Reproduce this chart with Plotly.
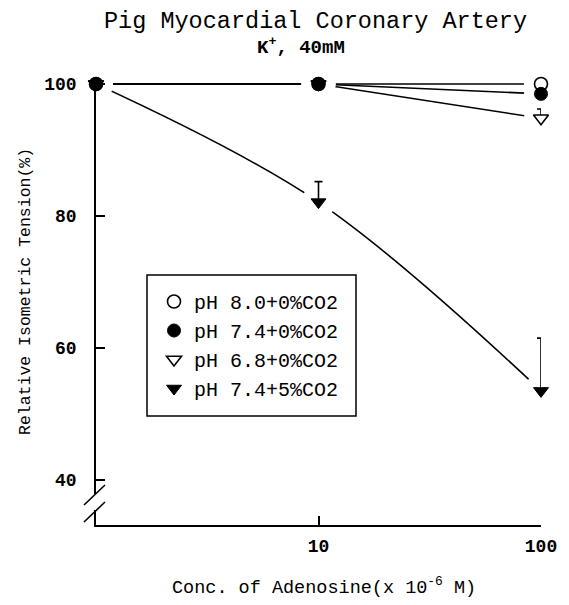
import plotly.graph_objects as go

# ---- data ----
conc = [1, 10, 100]
ph80_0co2 = [100, 100, 100]
ph74_0co2 = [100, 100, 98.5]
ph68_0co2 = [100, 100, 94.8]
ph68_0co2_err = [0, 0, 1.4]
ph74_5co2 = [100, 82.1, 53.5]
ph74_5co2_err = [0, 3.1, 8.0]

names = ["pH 8.0+0%CO2", "pH 7.4+0%CO2", "pH 6.8+0%CO2", "pH 7.4+5%CO2"]
x_ticks = [10, 100]
x_ticklabels = ["10", "100"]
y_ticks = [40, 60, 80, 100]

FONT = "Liberation Mono, Courier New, monospace"
BLACK = "black"

fig = go.Figure()

# connecting lines
for ys, shape in [(ph80_0co2, "linear"), (ph74_0co2, "linear"),
                  (ph68_0co2, "linear"), (ph74_5co2, "spline")]:
    fig.add_trace(go.Scatter(x=conc, y=ys, mode="lines", showlegend=False,
                             hoverinfo="skip",
                             line=dict(color=BLACK, width=1.6, shape=shape)))

# white masks to leave gaps around markers
mx, my = [], []
for ys in [ph80_0co2, ph74_0co2, ph68_0co2, ph74_5co2]:
    mx += conc
    my += ys
fig.add_trace(go.Scatter(x=mx, y=my, mode="markers", showlegend=False,
                         hoverinfo="skip", cliponaxis=False,
                         marker=dict(symbol="circle", size=34, color="white",
                                     line=dict(width=0))))

def err(arr):
    return dict(type="data", symmetric=False, array=arr,
                arrayminus=[0] * len(arr), color=BLACK, thickness=1.6, width=4)

# markers (drawing order: open first, filled on top)
fig.add_trace(go.Scatter(x=conc, y=ph80_0co2, mode="markers", name=names[0],
                         legendrank=1, cliponaxis=False,
                         marker=dict(symbol="circle", size=13, color="white",
                                     line=dict(color=BLACK, width=1.6))))
fig.add_trace(go.Scatter(x=conc, y=ph68_0co2, mode="markers", name=names[2],
                         legendrank=3, cliponaxis=False, error_y=err(ph68_0co2_err),
                         marker=dict(symbol="triangle-down", size=13, color="white",
                                     line=dict(color=BLACK, width=1.6))))
fig.add_trace(go.Scatter(x=conc, y=ph74_0co2, mode="markers", name=names[1],
                         legendrank=2, cliponaxis=False,
                         marker=dict(symbol="circle", size=13, color=BLACK,
                                     line=dict(color=BLACK, width=1))))
fig.add_trace(go.Scatter(x=conc, y=ph74_5co2, mode="markers", name=names[3],
                         legendrank=4, cliponaxis=False, error_y=err(ph74_5co2_err),
                         marker=dict(symbol="triangle-down", size=13, color=BLACK,
                                     line=dict(color=BLACK, width=1))))

# plot area in page pixels: x 96..541, y 81..525 (page has 8px body margin)
PX0, PX1, PY0, PY1 = 96, 541, 81, 525
PW, PH = PX1 - PX0, PY1 - PY0

def px(x):
    return (x - PX0) / PW

def py(y):
    return (PY1 - y) / PH

shapes = [
    # legend box
    dict(type="rect", xref="paper", yref="paper",
         x0=px(147), x1=px(356), y0=py(416), y1=py(275),
         line=dict(color=BLACK, width=1.5), fillcolor="white", layer="below"),
    # axis break: gap in y axis
    dict(type="rect", xref="paper", yref="paper", xsizemode="pixel",
         ysizemode="pixel", xanchor=0, yanchor=0, x0=-4, x1=4, y0=15, y1=31,
         line=dict(width=0), fillcolor="white", layer="above"),
    # slashes
    dict(type="line", xref="paper", yref="paper", xsizemode="pixel",
         ysizemode="pixel", xanchor=0, yanchor=0, x0=-12, x1=9, y0=20, y1=40,
         line=dict(color=BLACK, width=1.6), layer="above"),
    dict(type="line", xref="paper", yref="paper", xsizemode="pixel",
         ysizemode="pixel", xanchor=0, yanchor=0, x0=-12, x1=9, y0=3, y1=23,
         line=dict(color=BLACK, width=1.6), layer="above"),
]

annotations = [
    dict(text="Pig Myocardial Coronary Artery", xref="paper", yref="paper",
         x=px(315), y=py(21), xanchor="center", yanchor="middle",
         showarrow=False, font=dict(family=FONT, size=23.5, color=BLACK)),
    dict(text="K<sup>+</sup>, 40mM", xref="paper", yref="paper",
         x=px(301), y=py(47), xanchor="center", yanchor="middle",
         showarrow=False,
         font=dict(family=FONT, size=19, color=BLACK, weight="bold")),
    dict(text="Relative Isometric Tension(%)", xref="paper", yref="paper",
         x=px(25), y=py(292), xanchor="center", yanchor="middle",
         textangle=-90, showarrow=False,
         font=dict(family=FONT, size=16.5, color=BLACK)),
    dict(text="Conc. of Adenosine(x 10<sup>-6</sup> M)", xref="paper", yref="paper",
         x=px(324), y=py(586), xanchor="center", yanchor="middle",
         showarrow=False, font=dict(family=FONT, size=18.5, color=BLACK)),
]

fig.update_layout(
    width=561, height=597,
    margin=dict(l=88, r=28, t=73, b=80),
    paper_bgcolor="white", plot_bgcolor="white",
    font=dict(family=FONT, color=BLACK),
    showlegend=True,
    legend=dict(x=px(154), y=py(282), xanchor="left",
                yanchor="top", bgcolor="rgba(0,0,0,0)", borderwidth=0,
                font=dict(family=FONT, size=20, color=BLACK),
                traceorder="normal"),
    shapes=shapes,
    annotations=annotations,
    xaxis=dict(type="log", range=[0, 2], showline=True, linecolor=BLACK,
               linewidth=1.6, ticks="inside", ticklen=9, tickwidth=1.6,
               tickcolor=BLACK, tickvals=x_ticks, ticktext=x_ticklabels,
               showgrid=False, zeroline=False, ticklabelstandoff=4,
               tickfont=dict(family=FONT, size=18, color=BLACK, weight="bold")),
    yaxis=dict(range=[33.18, 100.45], showline=True, linecolor=BLACK,
               linewidth=1.6, ticks="inside", ticklen=9, tickwidth=1.6,
               tickcolor=BLACK, tickvals=y_ticks, showgrid=False,
               zeroline=False, ticklabelstandoff=14,
               tickfont=dict(family=FONT, size=18, color=BLACK, weight="bold")),
)

fig.write_html("out.html")
